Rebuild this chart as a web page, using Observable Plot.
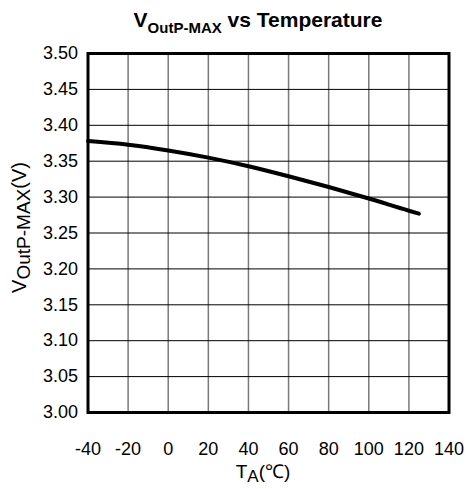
<!DOCTYPE html>
<html>
<head>
<meta charset="utf-8">
<script src="https://cdn.jsdelivr.net/npm/d3@7"></script>
<script src="https://cdn.jsdelivr.net/npm/@observablehq/plot@0.6"></script>
<style>
  html, body { margin: 0; padding: 0; background: white; }
</style>
</head>
<body>
<div id="chart"></div>
<script>
const temps = [-40, -20, 0, 20, 40, 60, 80, 100, 120, 125];
const vout = [3.378, 3.373, 3.365, 3.355, 3.343, 3.329, 3.314, 3.298, 3.281, 3.277];
const xTicks = [-40, -20, 0, 20, 40, 60, 80, 100, 120, 140];
const yTicks = [3.00, 3.05, 3.10, 3.15, 3.20, 3.25, 3.30, 3.35, 3.40, 3.45, 3.50];
const titleMain = "V";
const titleSub = "OutP-MAX";
const titleRest = " vs Temperature";
const xLabelMain = "T";
const xLabelSub = "A";
const xLabelRest = "(℃)";
const yLabelMain = "V";
const yLabelSub = "OutP-MAX";
const yLabelRest = "(V)";

const data = temps.map((t, i) => ({t, v: vout[i]}));
const font = "'Liberation Sans', Arial, Helvetica, sans-serif";

const plot = Plot.plot({
  width: 468,
  height: 489,
  marginLeft: 87.5,
  marginRight: 19.5,
  marginTop: 53,
  marginBottom: 77,
  style: {fontFamily: font, fontSize: "18px", color: "black", background: "white", overflow: "visible"},
  x: {domain: [-40, 140], ticks: xTicks, tickFormat: d => String(d), tickSize: 0, tickPadding: 30, label: null},
  y: {domain: [3.0, 3.5], ticks: yTicks, tickFormat: d => d.toFixed(2), tickSize: 0, tickPadding: 10, label: null},
  marks: [
    Plot.gridX(xTicks.slice(1, -1), {stroke: "#7a7a7a", strokeOpacity: 1, strokeWidth: 1.5}),
    Plot.gridY(yTicks.slice(1, -1), {stroke: "black", strokeOpacity: 1, strokeWidth: 1}),
    Plot.line(data, {x: "t", y: "v", curve: "monotone-x", stroke: "black", strokeWidth: 4}),
    Plot.frame({stroke: "black", strokeWidth: 3})
  ]
});

const svg = d3.select(plot);
const xs = plot.scale("x"), ys = plot.scale("y");
const cx = (xs.apply(-40) + xs.apply(140)) / 2;
const cy = (ys.apply(3.0) + ys.apply(3.5)) / 2;

// Title
const title = svg.append("text")
  .attr("x", 258).attr("y", 27)
  .attr("text-anchor", "middle")
  .attr("font-family", font)
  .attr("font-weight", "bold")
  .attr("font-size", 21)
  .attr("fill", "black");
title.append("tspan").text(titleMain);
title.append("tspan").attr("font-size", 15).attr("dy", 6).text(titleSub);
title.append("tspan").attr("dy", -6).text(titleRest);

// X label
const xl = svg.append("text")
  .attr("x", cx - 5).attr("y", 478)
  .attr("text-anchor", "middle")
  .attr("font-family", font)
  .attr("font-size", 19)
  .attr("fill", "black");
xl.append("tspan").text(xLabelMain);
xl.append("tspan").attr("font-size", 17).attr("dy", 4).text(xLabelSub);
xl.append("tspan").attr("dy", -4).text(xLabelRest);

// Y label
const yl = svg.append("text")
  .attr("transform", `translate(26,${cy - 5}) rotate(-90)`)
  .attr("text-anchor", "middle")
  .attr("font-family", font)
  .attr("font-size", 20)
  .attr("fill", "black");
yl.append("tspan").text(yLabelMain);
yl.append("tspan").attr("font-size", 19).attr("dy", 4).text(yLabelSub);
yl.append("tspan").attr("dy", -4).text(yLabelRest);

document.getElementById("chart").appendChild(plot);
</script>
</body>
</html>
